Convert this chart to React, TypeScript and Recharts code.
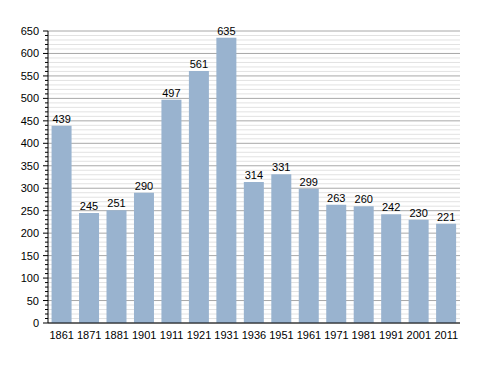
import React from 'react';
import { BarChart, Bar, XAxis, YAxis, CartesianGrid, LabelList } from 'recharts';

const years = ['1861', '1871', '1881', '1901', '1911', '1921', '1931', '1936', '1951', '1961', '1971', '1981', '1991', '2001', '2011'];
const population = [439, 245, 251, 290, 497, 561, 635, 314, 331, 299, 263, 260, 242, 230, 221];
const yTicks = [0, 10, 20, 30, 40, 50, 60, 70, 80, 90, 100, 110, 120, 130, 140, 150, 160, 170, 180, 190, 200, 210, 220, 230, 240, 250, 260, 270, 280, 290, 300, 310, 320, 330, 340, 350, 360, 370, 380, 390, 400, 410, 420, 430, 440, 450, 460, 470, 480, 490, 500, 510, 520, 530, 540, 550, 560, 570, 580, 590, 600, 610, 620, 630, 640, 650];

const data = years.map((year, i) => ({ year, value: population[i] }));

const FONT = 'Liberation Sans, Arial, sans-serif';

const YTick = (props: any) => {
  const { x, y, payload } = props;
  const major = payload.value % 50 === 0;
  return (
    <g>
      <line x1={x - (major ? 5 : 3)} x2={x} y1={y} y2={y} stroke="#000" strokeWidth={1} />
      {major && (
        <text x={x - 9} y={y} dy={4} textAnchor="end" fontSize={11} fill="#000" fontFamily={FONT}>
          {payload.value}
        </text>
      )}
    </g>
  );
};

const GridLine = (props: any) => {
  const { x1, x2, y1, y2, index } = props;
  const major = index % 5 === 0;
  return (
    <line
      key={`g-${index}`}
      x1={x1}
      x2={x2}
      y1={y1}
      y2={y2}
      stroke={major ? '#a8a8a8' : '#e2e2e2'}
      strokeWidth={1}
    />
  );
};

export default function App() {
  return (
    <div style={{ position: 'absolute', left: 0, top: 0, width: 488, height: 373, background: '#fff' }}>
      <BarChart
        width={488}
        height={373}
        data={data}
        margin={{ top: 31, right: 28, bottom: 30, left: 0 }}
        barCategoryGap="13%"
      >
        <CartesianGrid vertical={false} horizontal={GridLine} />
        <XAxis
          dataKey="year"
          height={20}
          tickLine={false}
          axisLine={{ stroke: '#000' }}
          tick={{ fontSize: 11, fill: '#000', fontFamily: FONT }}
          tickMargin={2}
          interval={0}
        />
        <YAxis
          width={48}
          domain={[0, 650]}
          ticks={yTicks}
          interval={0}
          tickLine={false}
          tickSize={0}
          tickMargin={0}
          axisLine={{ stroke: '#000' }}
          tick={<YTick />}
        />
        <Bar dataKey="value" fill="#99b3cf" isAnimationActive={false}>
          <LabelList dataKey="value" position="top" offset={3} fontSize={11} fill="#000" fontFamily={FONT} />
        </Bar>
      </BarChart>
    </div>
  );
}
